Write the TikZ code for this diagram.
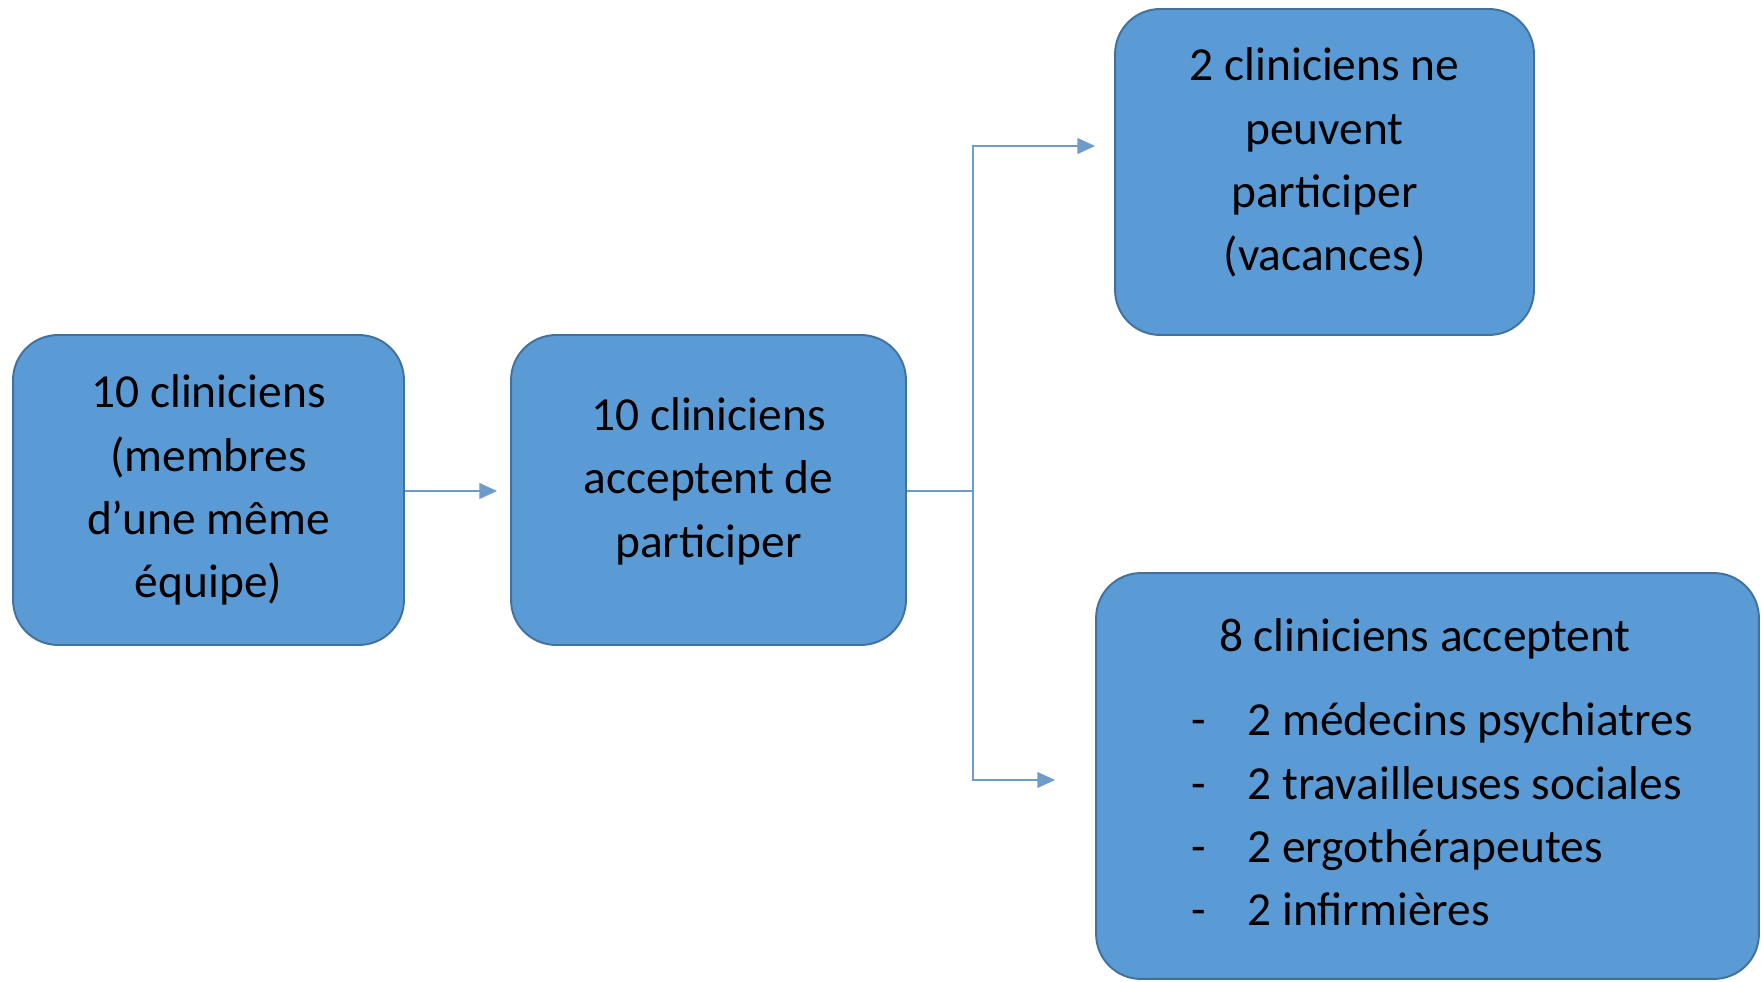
\documentclass[tikz,border=0pt]{standalone}
\usepackage{fontspec}
\setmainfont{Carlito}
\usepackage{xcolor}
\usetikzlibrary{arrows.meta,positioning}
\definecolor{boxfill}{HTML}{5B9BD5}
\definecolor{boxline}{HTML}{41719C}
\definecolor{linkcol}{HTML}{6E9BCB}

\begin{document}
\begin{tikzpicture}[x=0.02cm, y=-0.02cm,
    stage/.style={rectangle, rounded corners=0.9cm, draw=boxline, fill=boxfill,
      line width=1.1pt, align=center, font=\fontsize{27}{36}\selectfont, inner sep=0pt},
    link/.style={draw=linkcol, line width=0.8pt, -{Triangle[length=10pt,width=9pt]}}]
      \useasboundingbox (0,0) rectangle (1761,982);
      % Boxes
      \node[stage, minimum width=7.82cm, minimum height=6.2cm] (team) at (208.5,490) {10 cliniciens\\(membres\\d’une même\\équipe)};
      \node[stage, minimum width=7.9cm, minimum height=6.2cm] (accept) at (708.5,490) {10 cliniciens\\acceptent de\\participer\\[-0.76cm]};
      \node[stage, minimum width=8.38cm, minimum height=6.52cm] (absent) at (1324.5,172) {2 cliniciens ne\\peuvent\\participer\\(vacances)\\[-0.76cm]};
      \node[stage, minimum width=13.26cm, minimum height=8.12cm] (final) at (1427.5,776) {%
        \begin{tabular}{@{\hspace{0.58cm}}l@{\hspace{0.84cm}}l@{}}
          \multicolumn{2}{@{\hspace{1.14cm}}l}{8 cliniciens acceptent}\\[0.42cm]
          - & 2 médecins psychiatres\\
          - & 2 travailleuses sociales\\
          - & 2 ergothérapeutes\\
          - & 2 infirmières
        \end{tabular}};

      % Branch points
      \coordinate (split) at (973,491);
      \coordinate (upend) at (1095,146);
      \coordinate (downend) at (1055,780);

      % Connections
      \draw[link] (team.east |- 0,491) -- (497,491);
      \draw[draw=linkcol, line width=0.8pt] (accept.east |- split) -- (split);
      \draw[link] (split) |- (upend);
      \draw[link] (split) |- (downend);
\end{tikzpicture}
\end{document}
